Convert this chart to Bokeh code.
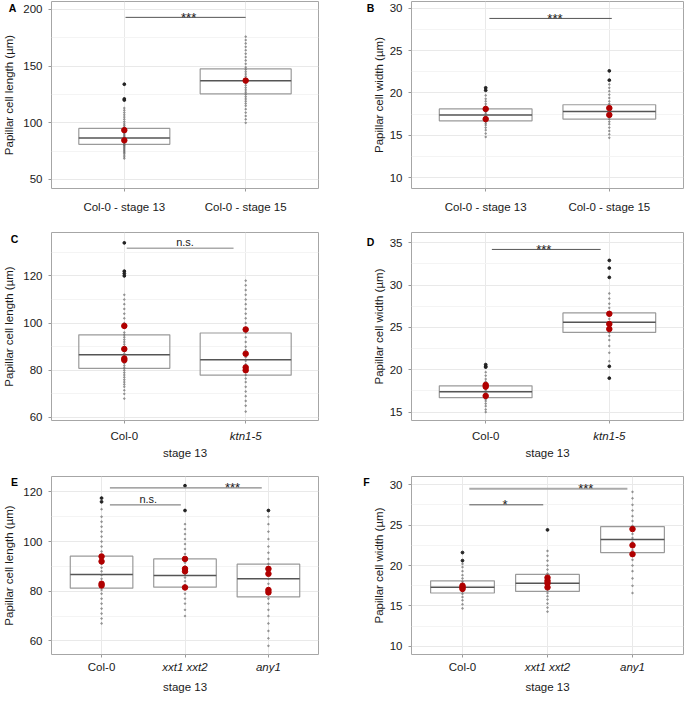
from bokeh.plotting import figure
from bokeh.models import FixedTicker, Range1d
from bokeh.layouts import column, row
from bokeh.embed import file_html
from bokeh.resources import INLINE
from bokeh.core.properties import value

FONT = "Liberation Sans"

# ---------------- data ----------------
A_cats = ["Col-0 - stage 13", "Col-0 - stage 15"]
A_italic = [False, False]
A_q1 = [81.0, 125.5]
A_med = [86.5, 137.0]
A_q3 = [95.0, 147.5]
A_raw1 = [68.5, 70, 71.5, 73, 74, 75, 76, 77, 78, 79, 80, 80.5, 81, 82, 83, 84, 85, 86, 86.5, 87, 88, 89,
          90, 91, 92, 93, 94, 95, 96, 97.5, 99, 101, 103, 105, 107, 109, 111, 113]
A_raw2 = [100, 103, 106, 109, 112, 115, 117, 119, 121, 123, 125, 127, 129, 131, 133, 135, 137, 139, 141,
          143, 145, 147, 149, 152, 155, 158, 161, 164, 167, 170, 173, 176]
A_means1 = [93.5, 84.5]
A_means2 = [137.2]
A_out1 = [120, 121, 134]
A_out2 = []
A_sig_x0 = [1.01]
A_sig_x1 = [2.0]
A_sig_y = [193]
A_sig_tx = [1.53]
A_sig_txt = ["***"]
A_yticks = [50, 100, 150, 200]

B_cats = ["Col-0 - stage 13", "Col-0 - stage 15"]
B_italic = [False, False]
B_q1 = [16.7, 16.9]
B_med = [17.4, 17.8]
B_q3 = [18.1, 18.6]
B_raw1 = [14.8, 15.2, 15.6, 15.9, 16.2, 16.4, 16.6, 16.8, 17.0, 17.2, 17.4, 17.6, 17.8, 18.0, 18.2, 18.4,
          18.7, 19.0, 19.3, 19.7]
B_raw2 = [14.7, 15.1, 15.5, 15.9, 16.3, 16.6, 16.9, 17.2, 17.5, 17.8, 18.1, 18.4, 18.7, 19.0, 19.4, 19.8,
          20.2, 20.6, 21.0]
B_means1 = [18.1, 16.9]
B_means2 = [18.2, 17.4]
B_out1 = [20.3, 20.6]
B_out2 = [21.5, 22.6]
B_sig_x0 = [1.03]
B_sig_x1 = [2.02]
B_sig_y = [28.8]
B_sig_tx = [1.56]
B_sig_txt = ["***"]
B_yticks = [10, 15, 20, 25, 30]

C_cats = ["Col-0", "ktn1-5"]
C_italic = [False, True]
C_q1 = [80.8, 77.9]
C_med = [86.6, 84.5]
C_q3 = [95.0, 95.8]
C_raw1 = [68, 70, 71.5, 73, 74, 75, 76, 77, 78, 79, 80, 81, 82, 83, 84, 85, 86, 87, 88, 89, 90, 91, 92,
          93, 94, 95, 96, 98, 100, 102, 104, 106, 108, 110, 112]
C_raw2 = [62.5, 65, 67, 69, 71, 73, 75, 76.5, 78, 79.5, 81, 82.5, 84, 85.5, 87, 88.5, 90, 92, 94, 96, 98,
          100, 102, 104, 106, 108, 110, 112, 114, 116, 118]
C_means1 = [98.8, 89.0, 85.0, 84.3]
C_means2 = [97.3, 87.0, 81.2, 80.0]
C_out1 = [120, 121, 122, 134]
C_out2 = []
C_sig_x0 = [1.02]
C_sig_x1 = [1.9]
C_sig_y = [131.7]
C_sig_tx = [1.5]
C_sig_txt = ["n.s."]
C_yticks = [60, 80, 100, 120]

D_cats = ["Col-0", "ktn1-5"]
D_italic = [False, True]
D_q1 = [16.7, 24.4]
D_med = [17.4, 25.6]
D_q3 = [18.1, 26.7]
D_raw1 = [15.0, 15.3, 15.7, 16.0, 16.3, 16.5, 16.7, 16.9, 17.1, 17.3, 17.5, 17.7, 17.9, 18.1, 18.3, 18.6,
          18.9, 19.3, 19.7]
D_raw2 = [21.0, 22.0, 22.8, 23.5, 24.0, 24.4, 24.8, 25.2, 25.6, 26.0, 26.4, 26.8, 27.3, 27.8, 28.4, 29.0]
D_means1 = [18.2, 18.0, 16.9]
D_means2 = [26.6, 25.4, 24.8]
D_out1 = [20.3, 20.4, 20.6]
D_out2 = [19.0, 20.4, 30.9, 32.0, 32.9]
D_sig_x0 = [1.05]
D_sig_x1 = [1.93]
D_sig_y = [34.2]
D_sig_tx = [1.47]
D_sig_txt = ["***"]
D_yticks = [15, 20, 25, 30, 35]

E_cats = ["Col-0", "xxt1 xxt2", "any1"]
E_italic = [False, True, True]
E_q1 = [81.2, 81.6, 77.7]
E_med = [86.7, 86.3, 85.0]
E_q3 = [94.1, 93.0, 90.9]
E_raw1 = [67, 69, 71, 73, 75, 77, 79, 80.5, 82, 83.5, 85, 86.5, 88, 89.5, 91, 92.5, 94, 96, 98, 100, 102,
          104, 106, 108, 110, 113]
E_raw2 = [70, 72.5, 75, 77, 79, 81, 82.5, 84, 85.5, 87, 88.5, 90, 91.5, 93, 95, 97, 99, 101, 103, 105, 107]
E_raw3 = [58, 61, 64, 67, 70, 72.5, 75, 77, 79, 81, 83, 85, 87, 89, 91, 93, 95.5, 98, 101, 104, 107, 110]
E_means1 = [94.0, 92.0, 83.0, 82.3]
E_means2 = [93.0, 89.0, 88.0, 81.5]
E_means3 = [89.0, 87.0, 80.5, 79.5]
E_out1 = [116, 117.5]
E_out2 = [112.5, 122.5]
E_out3 = [112.5]
E_sig_x0 = [1.1, 1.1]
E_sig_x1 = [1.95, 2.92]
E_sig_y = [114.8, 121.6]
E_sig_tx = [1.56, 2.57]
E_sig_txt = ["n.s.", "***"]
E_yticks = [60, 80, 100, 120]

F_cats = ["Col-0", "xxt1 xxt2", "any1"]
F_italic = [False, True, True]
F_q1 = [16.6, 16.8, 21.6]
F_med = [17.3, 17.8, 23.2]
F_q3 = [18.1, 18.9, 24.8]
F_raw1 = [14.7, 15.2, 15.7, 16.1, 16.5, 16.8, 17.1, 17.4, 17.7, 18.0, 18.4, 18.8, 19.3, 19.8, 20.2]
F_raw2 = [14.3, 14.8, 15.3, 15.8, 16.2, 16.6, 17.0, 17.3, 17.6, 17.9, 18.2, 18.6, 19.0, 19.5, 20.0, 20.6,
          21.2, 21.8]
F_raw3 = [16.6, 17.5, 18.4, 19.3, 20.0, 20.7, 21.3, 21.9, 22.4, 22.9, 23.4, 23.9, 24.4, 24.9, 25.5, 26.1,
          26.8, 27.5, 28.3, 29.1]
F_means1 = [17.5, 17.3, 17.1]
F_means2 = [18.5, 18.1, 17.8, 17.3]
F_means3 = [24.5, 22.5, 21.4]
F_out1 = [20.6, 21.6]
F_out2 = [24.4]
F_out3 = []
F_sig_x0 = [1.08, 1.08]
F_sig_x1 = [1.95, 2.94]
F_sig_y = [27.5, 29.5]
F_sig_tx = [1.5, 2.45]
F_sig_txt = ["*", "***"]
F_yticks = [10, 15, 20, 25, 30]

TXT = "#1a1a1a"
TICK_SIZE = "11.5px"


def panel(letter, cats, italic, q1, med, q3, raws, means, outs, sig, y_rng, yticks, ytitle, xtitle,
          w, h, bl, br, bt, bb, let_dx, let_dy, x_stand, xt_stand, y_stand, sig_colors):
    n = len(cats)
    xs = list(range(1, n + 1))
    p = figure(width=w, height=h, output_backend="svg", toolbar_location=None,
               x_range=Range1d(0.4, n + 0.6), y_range=Range1d(*y_rng),
               min_border_left=bl, min_border_right=br, min_border_top=bt, min_border_bottom=bb)
    p.outline_line_color = "#a6a6a6"
    p.outline_line_width = 1
    step = yticks[1] - yticks[0]
    minor = [t + step / 2 for t in [yticks[0] - step] + yticks]
    yt = FixedTicker(ticks=yticks, minor_ticks=minor)
    xt = FixedTicker(ticks=xs, minor_ticks=[])
    p.xaxis.ticker = xt
    p.yaxis.ticker = yt
    p.xgrid.ticker = xt
    p.ygrid.ticker = yt
    p.grid.grid_line_color = "#e9e9e9"
    p.ygrid.minor_grid_line_color = "#f4f4f4"
    p.xaxis.major_label_overrides = {x: ("" if it else c) for x, c, it in zip(xs, cats, italic)}
    for ax in (p.xaxis[0], p.yaxis[0]):
        ax.axis_line_color = None
        ax.major_tick_line_color = "#9a9a9a"
        ax.major_tick_out = 3
        ax.major_tick_in = 0
        ax.minor_tick_line_color = None
        ax.major_label_text_font = FONT
        ax.major_label_text_font_size = TICK_SIZE
        ax.major_label_text_color = TXT
        ax.axis_label_text_font = FONT
        ax.axis_label_text_font_size = TICK_SIZE
        ax.axis_label_text_font_style = "normal"
        ax.axis_label_text_color = TXT
    p.xaxis.major_label_standoff = x_stand
    p.yaxis.major_label_standoff = 5
    p.yaxis.axis_label = ytitle
    p.yaxis.axis_label_standoff = y_stand
    if xtitle:
        p.xaxis.axis_label = xtitle
        p.xaxis.axis_label_standoff = xt_stand

    # boxes
    p.vbar(x=xs, width=0.75, bottom=q1, top=q3, fill_color="white", fill_alpha=0.0,
           line_color="#9a9a9a", line_width=1.2)
    p.segment(x0=[x - 0.375 for x in xs], x1=[x + 0.375 for x in xs], y0=med, y1=med,
              line_color="#555555", line_width=1.5)
    # raw points
    for x, vals in zip(xs, raws):
        p.scatter(x=[x] * len(vals), y=vals, size=1.7, color="#666666", alpha=0.5)
    for x, vals in zip(xs, outs):
        p.scatter(x=[x] * len(vals), y=vals, size=2.8, color="#222222")
    for x, vals in zip(xs, means):
        p.scatter(x=[x] * len(vals), y=vals, size=5.5, color="#b00000")
    # significance bars
    x0s, x1s, ys, txs, txts = sig
    for x0, x1, y, tx, t, col in zip(x0s, x1s, ys, txs, txts, sig_colors):
        p.segment(x0=[x0], x1=[x1], y0=[y], y1=[y], line_color=col[0], line_width=col[1])
        star = t.startswith("*")
        p.text(x=[tx], y=[y], text=[t], text_align="center",
               text_baseline="middle" if star else "bottom",
               text_font=value(FONT), text_font_size=value("13px" if star else "11px"),
               text_color=TXT)
    # italic category labels (outside the frame, unclipped overlay level)
    it_x = [x for x, it in zip(xs, italic) if it]
    it_t = [c for c, it in zip(cats, italic) if it]
    if it_x:
        p.text(x=it_x, y=[y_rng[0]] * len(it_x), text=it_t, y_offset=3 + x_stand,
               text_align="center", text_baseline="top", text_font=value(FONT),
               text_font_size=value(TICK_SIZE), text_font_style="italic", text_color=TXT,
               level="overlay")
    # panel letter
    p.text(x=[0.4], y=[y_rng[1]], text=[letter], x_offset=-let_dx, y_offset=let_dy,
           text_align="center", text_baseline="middle", text_font=value(FONT),
           text_font_size=value("10.5px"), text_font_style="bold", text_color="#000000",
           level="overlay")
    return p


W1, W2 = 339, 345
L = dict(bl=44, br=21)
R = dict(bl=72, br=1)

pA = panel("A", A_cats, A_italic, A_q1, A_med, A_q3, [A_raw1, A_raw2], [A_means1, A_means2],
           [A_out1, A_out2], (A_sig_x0, A_sig_x1, A_sig_y, A_sig_tx, A_sig_txt), (42, 207), A_yticks,
           "Papillar cell length (µm)", None, W1, 232, bt=1, bb=44, let_dx=39, let_dy=6,
           x_stand=9, xt_stand=3, y_stand=5, sig_colors=[("#555555", 1)], **L)
pB = panel("B", B_cats, B_italic, B_q1, B_med, B_q3, [B_raw1, B_raw2], [B_means1, B_means2],
           [B_out1, B_out2], (B_sig_x0, B_sig_x1, B_sig_y, B_sig_tx, B_sig_txt), (8.7, 30.8), B_yticks,
           "Papillar cell width (µm)", None, W2, 232, bt=1, bb=44, let_dx=41, let_dy=6,
           x_stand=9, xt_stand=3, y_stand=2, sig_colors=[("#555555", 1)], **R)
pC = panel("C", C_cats, C_italic, C_q1, C_med, C_q3, [C_raw1, C_raw2], [C_means1, C_means2],
           [C_out1, C_out2], (C_sig_x0, C_sig_x1, C_sig_y, C_sig_tx, C_sig_txt), (58.7, 138.4), C_yticks,
           "Papillar cell length (µm)", "stage 13", W1, 244, bt=0, bb=56, let_dx=37, let_dy=6,
           x_stand=6, xt_stand=2, y_stand=5, sig_colors=[("#aaaaaa", 1.5)], **L)
pD = panel("D", D_cats, D_italic, D_q1, D_med, D_q3, [D_raw1, D_raw2], [D_means1, D_means2],
           [D_out1, D_out2], (D_sig_x0, D_sig_x1, D_sig_y, D_sig_tx, D_sig_txt), (14.0, 36.2), D_yticks,
           "Papillar cell width (µm)", "stage 13", W2, 244, bt=0, bb=56, let_dx=41, let_dy=9,
           x_stand=6, xt_stand=2, y_stand=2, sig_colors=[("#555555", 1)], **R)
pE = panel("E", E_cats, E_italic, E_q1, E_med, E_q3, [E_raw1, E_raw2, E_raw3],
           [E_means1, E_means2, E_means3], [E_out1, E_out2, E_out3],
           (E_sig_x0, E_sig_x1, E_sig_y, E_sig_tx, E_sig_txt), (54.5, 126.2), E_yticks,
           "Papillar cell length (µm)", "stage 13", W1, 219, bt=0, bb=39, let_dx=37, let_dy=5,
           x_stand=3, xt_stand=5, y_stand=5, sig_colors=[("#888888", 1.2), ("#888888", 1.2)], **L)
pF = panel("F", F_cats, F_italic, F_q1, F_med, F_q3, [F_raw1, F_raw2, F_raw3],
           [F_means1, F_means2, F_means3], [F_out1, F_out2, F_out3],
           (F_sig_x0, F_sig_x1, F_sig_y, F_sig_tx, F_sig_txt), (9.0, 31.0), F_yticks,
           "Papillar cell width (µm)", "stage 13", W2, 219, bt=0, bb=39, let_dx=45, let_dy=5,
           x_stand=3, xt_stand=5, y_stand=2, sig_colors=[("#555555", 1), ("#aaaaaa", 2)], **R)

layout = column(row(pA, pB), row(pC, pD), row(pE, pF))
open("out.html", "w").write(file_html(layout, INLINE))
